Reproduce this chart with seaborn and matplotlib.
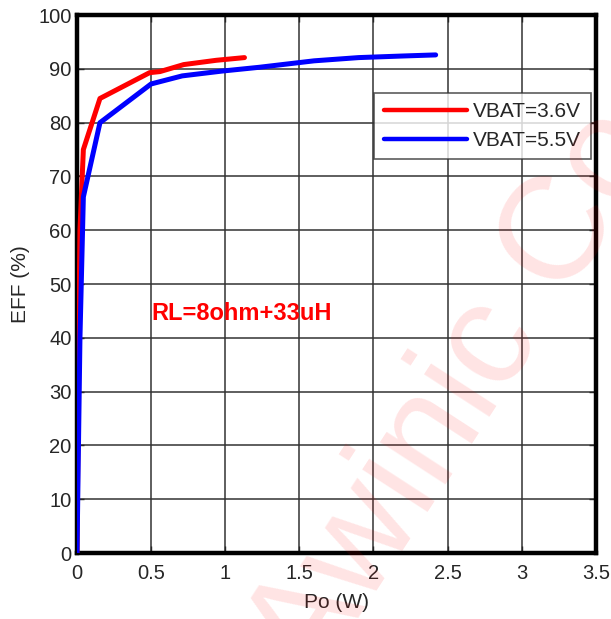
import pandas as pd
import numpy as np
import seaborn as sns
import matplotlib.pyplot as plt

# Efficiency vs output power
po_36 = [0.0, 0.01, 0.02, 0.043, 0.155, 0.49, 0.56, 0.72, 0.94, 1.13]
eff_36 = [0.0, 35.0, 60.0, 75.0, 84.5, 89.3, 89.5, 90.8, 91.6, 92.1]

po_55 = [0.0, 0.02, 0.043, 0.155, 0.50, 0.71, 0.98, 1.23, 1.6, 1.9, 2.2, 2.42]
eff_55 = [0.0, 40.0, 66.2, 80.0, 87.2, 88.7, 89.6, 90.3, 91.5, 92.1, 92.4, 92.6]

labels = ['VBAT=3.6V', 'VBAT=5.5V']
x_ticks = [0, 0.5, 1, 1.5, 2, 2.5, 3, 3.5]
x_tick_labels = ['0', '0.5', '1', '1.5', '2', '2.5', '3', '3.5']
y_ticks = list(range(0, 101, 10))

df = pd.concat([
    pd.DataFrame({'Po': po_36, 'EFF': eff_36, 'VBAT': labels[0]}),
    pd.DataFrame({'Po': po_55, 'EFF': eff_55, 'VBAT': labels[1]}),
])

sns.set_style('white')
plt.rcParams['font.family'] = ['Liberation Sans', 'DejaVu Sans']

fig = plt.figure(figsize=(6.11, 6.19), dpi=100)
ax = fig.add_axes([0.126, 0.1066, 0.849, 0.869])

# faint watermark
fig.text(0.75, 0.36, 'Awinic Co', fontsize=105, color='#ff0000', alpha=0.11,
         rotation=57, ha='center', va='center', zorder=0)

sns.lineplot(data=df, x='Po', y='EFF', hue='VBAT', sort=False, ax=ax,
             palette={labels[0]: '#ff0000', labels[1]: '#0000ff'},
             linewidth=3.6, zorder=3)

ax.set_xlim(0, 3.5)
ax.set_ylim(0, 100)
ax.set_xticks(x_ticks)
ax.set_xticklabels(x_tick_labels)
ax.set_yticks(y_ticks)
ax.grid(True, color='#333333', linewidth=1.1)
ax.set_facecolor('none')
for s in ax.spines.values():
    s.set_linewidth(3.2)
    s.set_color('black')
ax.tick_params(direction='in', length=5, width=1, labelsize=14.5,
               right=True, top=True, bottom=True, left=True)
ax.tick_params(axis='x', pad=8)
ax.tick_params(axis='y', pad=4)

ax.set_xlabel('Po (W)', fontsize=15, labelpad=7)
ax.set_ylabel('EFF (%)', fontsize=15, labelpad=6)

ax.text(0.505, 44.6, 'RL=8ohm+33uH', color='#ff0000', fontsize=17,
        fontweight='bold', va='center', ha='left')

leg = ax.legend(loc='upper right', bbox_to_anchor=(0.99, 0.855), fontsize=15,
                frameon=True, fancybox=False, edgecolor='#333333',
                handlelength=4.0, handletextpad=0.3, borderpad=0.45,
                labelspacing=0.45, borderaxespad=0)
leg.get_frame().set_linewidth(1.2)
for line in leg.get_lines():
    line.set_linewidth(3.2)

fig.savefig('out.png', dpi=100)
